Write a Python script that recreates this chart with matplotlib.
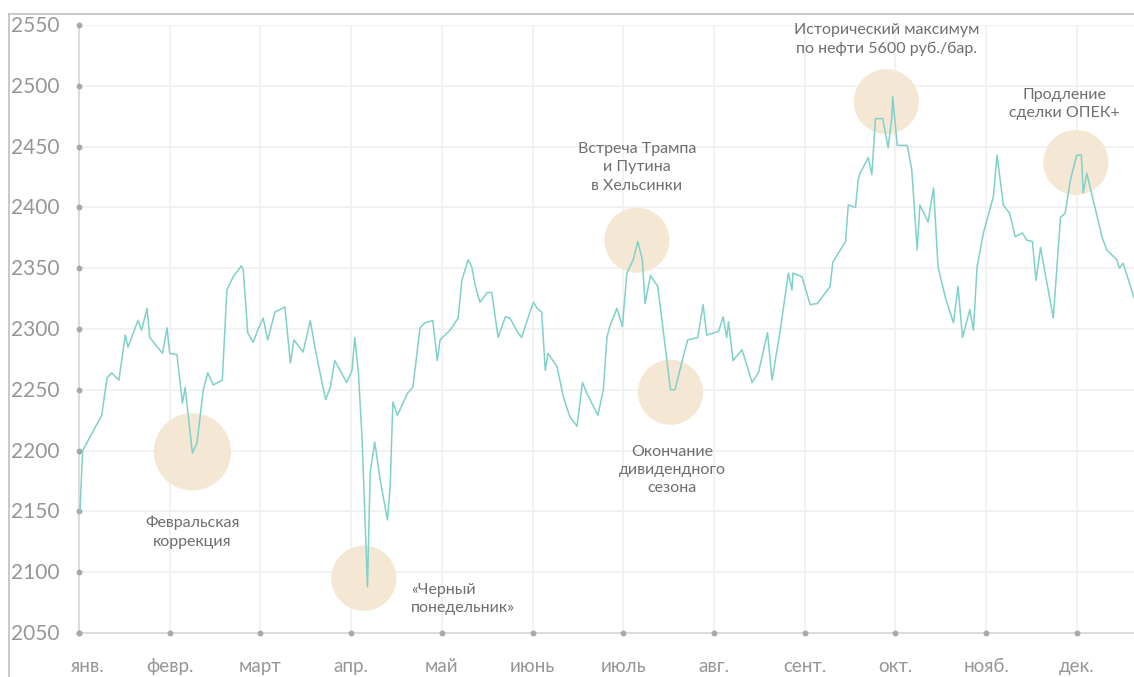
import numpy as np
import matplotlib
matplotlib.use('Agg')
import matplotlib.pyplot as plt
from matplotlib.lines import Line2D
from matplotlib.transforms import blended_transform_factory, offset_copy

plt.rcParams['font.family'] = ['Lato', 'DejaVu Sans']

# index values; t = months since 1 Jan (evenly spaced months)
t = [0.01, 0.04, 0.12, 0.25, 0.31, 0.36, 0.44, 0.51, 0.54, 0.62, 0.65, 0.69, 0.75, 0.78,
     0.92, 0.97, 1.00, 1.08, 1.14, 1.17, 1.25, 1.30, 1.37, 1.42, 1.48, 1.58, 1.63, 1.70,
     1.79, 1.81, 1.86, 1.92, 1.97, 2.03, 2.08, 2.16, 2.27, 2.33, 2.37, 2.47, 2.55, 2.60,
     2.69, 2.72, 2.77, 2.82, 2.95, 3.01, 3.04, 3.08, 3.12, 3.18, 3.21, 3.26, 3.32, 3.40,
     3.43, 3.46, 3.51, 3.62, 3.68, 3.76, 3.81, 3.90, 3.95, 3.98, 4.09, 4.18, 4.22, 4.29,
     4.33, 4.37, 4.42, 4.50, 4.55, 4.62, 4.70, 4.75, 4.83, 4.88, 4.94, 5.01, 5.05, 5.10,
     5.14, 5.17, 5.27, 5.34, 5.41, 5.49, 5.55, 5.60, 5.72, 5.78, 5.82, 5.85, 5.93, 5.99,
     6.04, 6.11, 6.16, 6.21, 6.24, 6.30, 6.38, 6.44, 6.52, 6.57, 6.66, 6.71, 6.82, 6.88,
     6.92, 7.05, 7.10, 7.14, 7.16, 7.21, 7.31, 7.42, 7.49, 7.59, 7.64, 7.73, 7.82, 7.86,
     7.87, 7.97, 8.06, 8.14, 8.28, 8.31, 8.45, 8.48, 8.56, 8.59, 8.61, 8.70, 8.74, 8.78,
     8.86, 8.92, 8.96, 8.97, 9.02, 9.13, 9.18, 9.24, 9.27, 9.36, 9.42, 9.47, 9.55, 9.64,
     9.69, 9.74, 9.82, 9.86, 9.90, 9.97, 10.08, 10.12, 10.19, 10.26, 10.32, 10.40, 10.45,
     10.51, 10.55, 10.60, 10.67, 10.74, 10.82, 10.87, 10.93, 11.00, 11.05, 11.07, 11.11,
     11.18, 11.28, 11.33, 11.44, 11.47, 11.51, 11.63]
index = [2149, 2200, 2211, 2229, 2260, 2264, 2258, 2295, 2285, 2301, 2307, 2299, 2317, 2293,
         2280, 2301, 2280, 2279, 2239, 2252, 2198, 2206, 2250, 2264, 2254, 2258, 2332, 2343,
         2352, 2349, 2297, 2289, 2299, 2309, 2291, 2314, 2318, 2272, 2291, 2281, 2307, 2285,
         2252, 2242, 2252, 2274, 2256, 2266, 2293, 2264, 2211, 2088, 2182, 2207, 2176, 2143,
         2170, 2240, 2229, 2247, 2252, 2301, 2305, 2307, 2274, 2291, 2299, 2309, 2340, 2357,
         2351, 2335, 2322, 2330, 2330, 2293, 2310, 2309, 2298, 2293, 2307, 2322, 2317, 2314,
         2266, 2280, 2269, 2244, 2228, 2220, 2256, 2247, 2229, 2250, 2293, 2302, 2317, 2302,
         2346, 2357, 2372, 2357, 2321, 2344, 2335, 2299, 2250, 2250, 2277, 2291, 2293, 2320,
         2295, 2298, 2310, 2293, 2306, 2274, 2283, 2256, 2264, 2297, 2258, 2299, 2346, 2332,
         2346, 2343, 2320, 2321, 2335, 2355, 2372, 2402, 2400, 2423, 2428, 2441, 2427, 2473,
         2473, 2449, 2474, 2491, 2451, 2451, 2431, 2365, 2402, 2388, 2416, 2351, 2326, 2305,
         2335, 2293, 2316, 2299, 2351, 2379, 2409, 2443, 2402, 2395, 2376, 2379, 2373,
         2372, 2340, 2367, 2338, 2309, 2392, 2395, 2423, 2443, 2443, 2412, 2428,
         2406, 2375, 2365, 2357, 2350, 2354, 2326]

months = ['янв.', 'февр.', 'март', 'апр.', 'май', 'июнь', 'июль', 'авг.', 'сент.', 'окт.', 'нояб.', 'дек.']
yticks = [2050, 2100, 2150, 2200, 2250, 2300, 2350, 2400, 2450, 2500, 2550]

# events marked with circles
ev_t = [1.25, 3.14, 6.15, 6.52, 8.90, 10.99]
ev_v = [2199, 2095, 2373, 2248, 2487, 2437]
ev_big = [True, False, False, False, False, False]
ev_text = ['Февральская\nкоррекция', '«Черный\nпонедельник»', 'Встреча Трампа\nи Путина\nв Хельсинки',
           'Окончание\nдивидендного\nсезона', 'Исторический максимум\nпо нефти 5600 руб./бар.',
           'Продление\nсделки ОПЕК+']

fig = plt.figure(figsize=(11.34, 6.77), dpi=100)
ax = fig.add_axes([79/1134, 44/677, 1 - 79/1134, 608/677])
ax.set_xlim(0, 11.63)
ax.set_ylim(2050, 2550)
for s in ax.spines.values():
    s.set_visible(False)
ax.set_xticks([])
ax.set_yticks([])

grid_c = '#f0f0f0'
for i in range(1, 12):
    ax.axvline(i, color=grid_c, lw=1.2, zorder=0)
for y in yticks[1:]:
    ax.axhline(y, color=grid_c, lw=1.2, zorder=0)

axis_c = '#dcdcdc'
ax.plot([0, 0], [2050, 2550], color=axis_c, lw=1.5, zorder=1, clip_on=False)
ax.plot([0, 11.63], [2050, 2050], color=axis_c, lw=1.5, zorder=1, clip_on=False)
ax.plot([0] * len(yticks), yticks, 'o', color='#a8a8a8', ms=3.2, zorder=2, clip_on=False)
ax.plot(range(12), [2050] * 12, 'o', color='#a8a8a8', ms=3.2, zorder=2, clip_on=False)

# event circles
for x, v, big in zip(ev_t, ev_v, ev_big):
    ax.scatter(x, v, s=3100 if big else 2200, color='#f4e8d4', edgecolors='none', zorder=1.5,
               clip_on=False)

ax.plot(t, index, color='#7fd1c9', lw=1.1, zorder=3)

txt_c = '#6e6e6e'
kw = dict(fontsize=11.5, color=txt_c, linespacing=1.4, zorder=4)
ax.text(1.25, 2133, ev_text[0], ha='center', va='center', **kw)
ax.text(3.66, 2078, ev_text[1], ha='left', va='center', **kw)
ax.text(6.15, 2433, ev_text[2], ha='center', va='center', **kw)
ax.text(6.54, 2184, ev_text[3], ha='center', va='center', **kw)
ax.text(8.90, 2538, ev_text[4], ha='center', va='center', clip_on=False, **kw)
ax.text(10.86, 2485, ev_text[5], ha='center', va='center', clip_on=False, **kw)

# y labels, left aligned near the frame
ytrans = offset_copy(blended_transform_factory(fig.transFigure, ax.transData), fig=fig,
                     y=-7, units='dots')
for y in yticks:
    ax.text(11/1134, y, str(y), transform=ytrans, ha='left', va='baseline',
            fontsize=15, color='#969696', clip_on=False)

# month labels
xtrans = blended_transform_factory(ax.transData, fig.transFigure)
for i, m in enumerate(months):
    ax.text(i + 0.1 if i == 0 else i, 5/677, m, transform=xtrans, ha='center', va='baseline',
            fontsize=13.5, color='#969696', clip_on=False)

# screenshot frame
fig.add_artist(Line2D([9/1134, 9/1134], [0, 1 - 14/677], color='#c4c4c4', lw=1.3))
fig.add_artist(Line2D([9/1134, 1], [1 - 14/677, 1 - 14/677], color='#c4c4c4', lw=1.3))

fig.savefig('out.png', dpi=100)
